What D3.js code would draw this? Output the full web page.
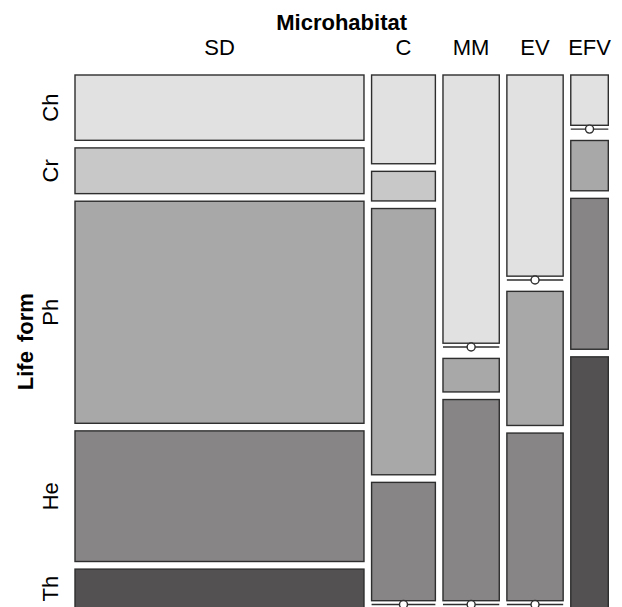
<!DOCTYPE html>
<html>
<head>
<meta charset="utf-8">
<script src="https://cdn.jsdelivr.net/npm/d3@7"></script>
<style>
  body { margin: 0; background: #fff; }
  svg { display: block; font-family: "Liberation Sans", Arial, Helvetica, sans-serif; }
</style>
</head>
<body>
<div id="chart"></div>
<script>
// mosaic plot: Microhabitat (columns) x Life form (rows)
var habitats = ["SD", "C", "MM", "EV", "EFV"];
var lifeForms = ["Ch", "Cr", "Ph", "He", "Th"];
var countsSD  = [10, 7, 34, 20, 6];
var countsC   = [3, 1, 9, 4, 0];
var countsMM  = [8, 0, 1, 6, 0];
var countsEV  = [6, 0, 4, 5, 0];
var countsEFV = [1, 0, 1, 3, 5];
var fills = ["#e1e1e1", "#c8c8c8", "#a8a8a8", "#878586", "#535152"];

var table = [countsSD, countsC, countsMM, countsEV, countsEFV];

var width = 622, height = 607;
var plotLeft = 75, plotTop = 75, gap = 7.6, size = 502.9;

var svg = d3.select("#chart").append("svg")
    .attr("width", width)
    .attr("height", height);

var colTotals = table.map(function (d) { return d3.sum(d); });
var N = d3.sum(colTotals);

// widths proportional to column totals
var x = d3.scaleLinear().domain([0, N]).range([0, size]);
var colStart = [0].concat(Array.from(d3.cumsum(colTotals))).slice(0, habitats.length);

var cols = table.map(function (counts, i) {
    var x0 = plotLeft + x(colStart[i]) + i * gap;
    var w = x(colTotals[i]);
    var y = d3.scaleLinear().domain([0, colTotals[i]]).range([0, size]);
    var rowStart = [0].concat(Array.from(d3.cumsum(counts)));
    var cells = counts.map(function (c, j) {
        return {
            habitat: habitats[i], life: lifeForms[j], count: c, row: j,
            x: x0, w: w,
            y: plotTop + y(rowStart[j]) + j * gap,
            h: y(c)
        };
    });
    return { x0: x0, w: w, cells: cells };
});

var allCells = d3.merge(cols.map(function (c) { return c.cells; }));

svg.append("g").selectAll("rect")
    .data(allCells.filter(function (d) { return d.count > 0; }))
    .enter().append("rect")
    .attr("x", function (d) { return d.x; })
    .attr("y", function (d) { return d.y; })
    .attr("width", function (d) { return d.w; })
    .attr("height", function (d) { return d.h; })
    .attr("fill", function (d) { return fills[d.row]; })
    .attr("stroke", "#2e2e2e")
    .attr("stroke-width", 1.4);

// zero cells drawn as a line with a circle
var zeros = svg.append("g").selectAll("g")
    .data(allCells.filter(function (d) { return d.count === 0; }))
    .enter().append("g");

zeros.append("line")
    .attr("x1", function (d) { return d.x; })
    .attr("x2", function (d) { return d.x + d.w; })
    .attr("y1", function (d) { return d.y - gap / 2; })
    .attr("y2", function (d) { return d.y - gap / 2; })
    .attr("stroke", "#2e2e2e")
    .attr("stroke-width", 1.4);

zeros.append("circle")
    .attr("cx", function (d) { return d.x + d.w / 2; })
    .attr("cy", function (d) { return d.y - gap / 2; })
    .attr("r", 4)
    .attr("fill", "#fff")
    .attr("stroke", "#2e2e2e")
    .attr("stroke-width", 1.4);

// top labels
svg.append("text")
    .attr("x", plotLeft + (size + 4 * gap) / 2)
    .attr("y", 30)
    .attr("text-anchor", "middle")
    .style("font-size", "22px")
    .style("font-weight", "bold")
    .text("Microhabitat");

svg.append("g").selectAll("text")
    .data(cols)
    .enter().append("text")
    .attr("x", function (d) { return d.x0 + d.w / 2; })
    .attr("y", 55)
    .attr("text-anchor", "middle")
    .style("font-size", "22px")
    .text(function (d, i) { return habitats[i]; });

// left labels, placed at the rows of the first column
svg.append("text")
    .attr("transform", "translate(33," + (plotTop + (size + 4 * gap) / 2) + ") rotate(-90)")
    .attr("text-anchor", "middle")
    .style("font-size", "22px")
    .style("font-weight", "bold")
    .style("word-spacing", "3px")
    .text("Life form");

svg.append("g").selectAll("text")
    .data(cols[0].cells)
    .enter().append("text")
    .attr("transform", function (d) { return "translate(58," + (d.y + d.h / 2) + ") rotate(-90)"; })
    .attr("text-anchor", "middle")
    .style("font-size", "22px")
    .text(function (d) { return d.life; });
</script>
</body>
</html>
